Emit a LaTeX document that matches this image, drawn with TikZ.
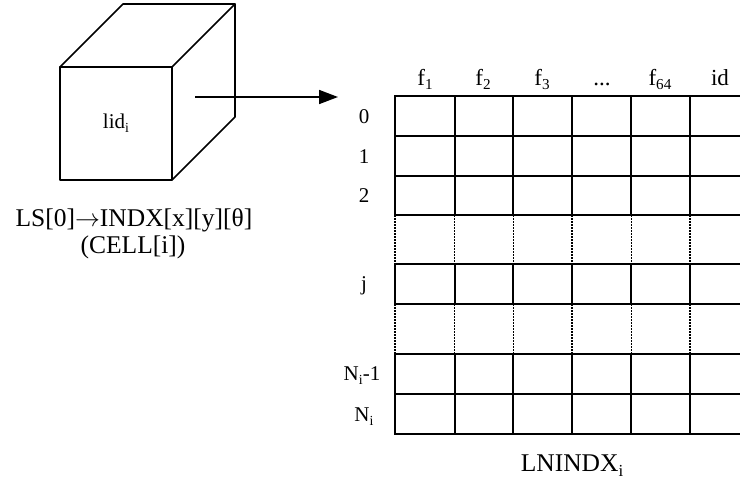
\documentclass[tikz,border=0pt]{standalone}
\usepackage{fontspec}
\setmainfont{Liberation Serif}
\usetikzlibrary{arrows.meta}
% lowered, moderately reduced index text
\newcommand{\lowidx}[1]{\raisebox{-0.2em}{\scalebox{0.66}{#1}}}
\tikzset{
  x=1pt, y=-1pt,
  edge/.style={line width=1.7pt, black},
  dotline/.style={line width=1.1pt, black, dash pattern=on 1.6pt off 1.4pt},
  lbl/.style={inner sep=0pt, anchor=base, font=\fontsize{21}{24}\selectfont},
  hdr/.style={inner sep=0pt, anchor=base, font=\fontsize{23}{26}\selectfont},
  bigtext/.style={inner sep=0pt, anchor=base, font=\fontsize{25.5}{29}\selectfont},
  link/.style={line width=1.7pt, -{Triangle[length=19pt,width=14pt]}}
}
\begin{document}
\begin{tikzpicture}
\useasboundingbox (0,0) rectangle (740,479);

% cube
\draw[edge, line join=round] (60,67) rectangle (172,180);
\draw[edge, line join=round] (60,67) -- (123,4) -- (235,4) -- (172,67);
\draw[edge, line join=round] (235,4) -- (235,117) -- (172,180);
\node[lbl] (lid) at (116,128) {lid\lowidx{i}};

% caption under the cube
\node[bigtext] (ls) at (134,226) {LS[0]$\rightarrow$INDX[x][y][θ]};
\node[bigtext] (cell) at (133,253) {(CELL[i])};

% pointer from the cube to the table
\coordinate (src) at (195,97);
\coordinate (dst) at (338,97);
\draw[link] (src) -- (dst);

% table
\begin{scope}
\clip (380,80) rectangle (740,440);
\foreach \y in {96,136,176,215,264,304,354,394,434}
  \draw[edge] (394.2,\y) -- (760,\y);
\foreach \x in {395,454.7,513.3,572,631.3,690,749}{
  \draw[edge] (\x,96) -- (\x,215);
  \draw[dotline] (\x,215) -- (\x,264);
  \draw[edge] (\x,264) -- (\x,304);
  \draw[dotline] (\x,304) -- (\x,354);
  \draw[edge] (\x,354) -- (\x,434);
}
\end{scope}

% column headings
\node[hdr] (h1) at (425,85) {f\lowidx{1}};
\node[hdr] (h2) at (483,85) {f\lowidx{2}};
\node[hdr] (h3) at (542,85) {f\lowidx{3}};
\node[hdr] (h4) at (602,85) {...};
\node[hdr] (h5) at (660,85) {f\lowidx{64}};
\node[hdr] (h6) at (720,85) {id};

% row labels
\node[lbl] (r0) at (364,123) {0};
\node[lbl] (r1) at (364,163) {1};
\node[lbl] (r2) at (364,202) {2};
\node[lbl] (rj) at (364,290) {j};
\node[lbl] (rn1) at (362,380) {N\lowidx{i}-1};
\node[lbl] (rn) at (364,421) {N\lowidx{i}};

\node[bigtext] (title) at (572,471) {LNINDX\lowidx{i}};
\end{tikzpicture}
\end{document}
